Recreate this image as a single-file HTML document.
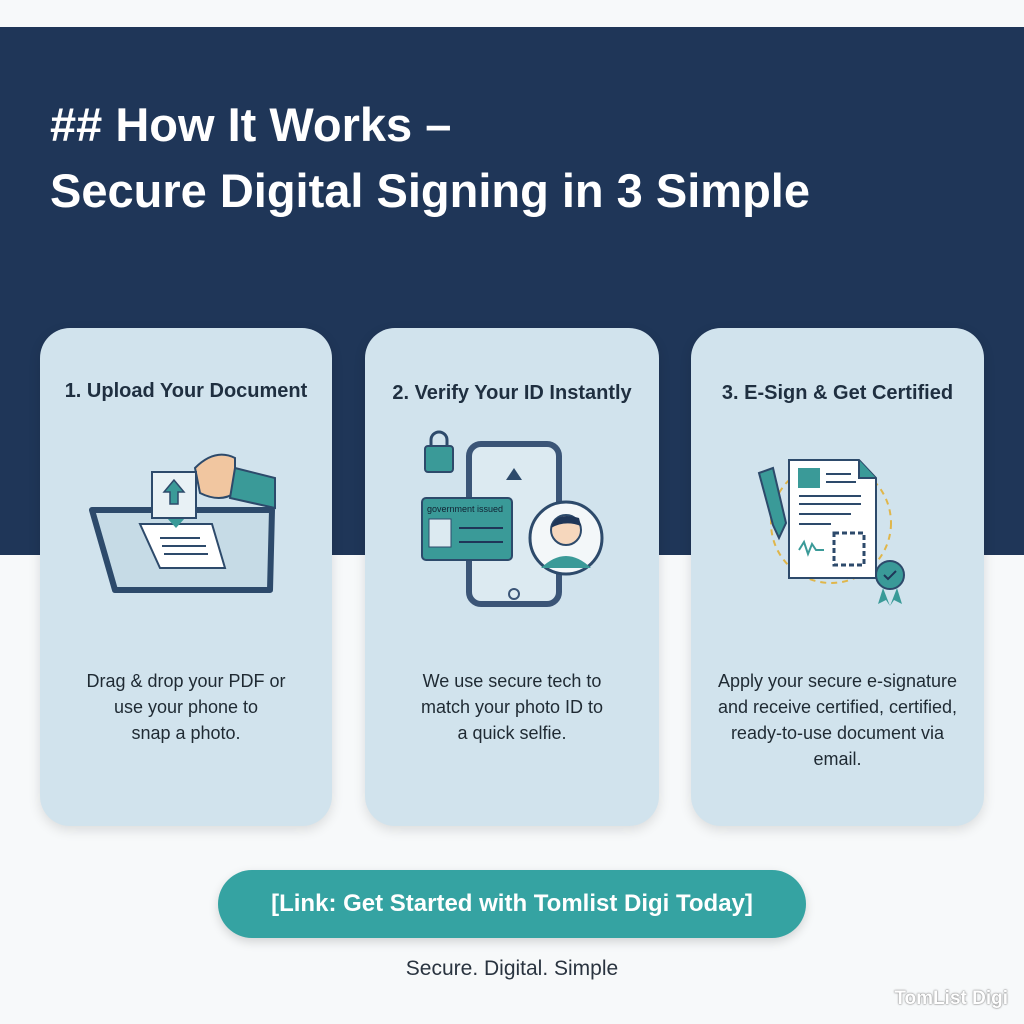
<!DOCTYPE html>
<html><head><meta charset="utf-8"><style>
*{margin:0;padding:0;box-sizing:border-box}
body{width:1024px;height:1024px;background:#f7f9fa;position:relative;overflow:hidden;font-family:"Liberation Sans",sans-serif}
.band{position:absolute;left:0;top:27px;width:1024px;height:528px;background:#1f3658}
h1{position:absolute;left:50px;top:92px;color:#fff;font-size:47px;font-weight:bold;line-height:66px;white-space:nowrap}
.card{position:absolute;top:328px;height:498px;background:#d1e3ed;border-radius:30px;box-shadow:0 4px 12px rgba(0,0,0,.12)}
.t{position:absolute;top:52px;left:0;width:100%;text-align:center;font-size:20px;font-weight:bold;color:#1f2f40}
.d{position:absolute;top:340px;left:0;width:100%;text-align:center;font-size:18px;line-height:26px;color:#1f2a33}
svg{position:absolute;left:0;top:0}
.btn{position:absolute;left:218px;top:870px;width:588px;height:68px;border-radius:34px;background:#35a3a2;color:#fff;font-weight:bold;font-size:24px;text-align:center;line-height:68px;box-shadow:0 4px 10px rgba(0,0,0,.15)}
.tag{position:absolute;top:957px;left:0;width:1024px;text-align:center;font-size:21px;color:#2a3440}
.wm{position:absolute;right:16px;top:988px;font-size:19px;color:#fff;font-weight:bold;text-shadow:0 0 2px #888,0 0 1px #666}
</style></head><body>
<div class="band"></div>
<h1>## How It Works –<br>Secure Digital Signing in 3 Simple</h1>

<div class="card" style="left:40px;width:292px">
<div class="t">1. Upload Your Document</div>
<svg width="292" height="300">
<polygon points="52,182 232,182 230,262 75,262" fill="#c6dbe6" stroke="#2d4a6b" stroke-width="6" stroke-linejoin="round"/>
<polygon points="100,196 172,196 185,240 120,240" fill="#fff" stroke="#2d4a6b" stroke-width="2"/>
<line x1="120" y1="210" x2="160" y2="210" stroke="#2d4a6b" stroke-width="2"/><line x1="122" y1="218" x2="166" y2="218" stroke="#2d4a6b" stroke-width="2"/><line x1="124" y1="226" x2="168" y2="226" stroke="#2d4a6b" stroke-width="2"/>
<polygon points="127,190 145,190 136,200" fill="#3a9a98"/>
<path d="M155,140 Q175,120 195,130 L195,165 Q180,175 160,165 Z" fill="#f1c6a0" stroke="#2d4a6b" stroke-width="2"/>
<path d="M195,140 L235,150 L235,180 L190,170 Z" fill="#3a9a98" stroke="#2d4a6b" stroke-width="2"/>
<rect x="112" y="144" width="44" height="46" fill="#e8f1f5" stroke="#2d4a6b" stroke-width="2"/>
<path d="M134,152 L124,164 H130 V176 H138 V164 H144 Z" fill="#3a9a98" stroke="#2d4a6b" stroke-width="1.5"/>
</svg>
<div class="d">Drag &amp; drop your PDF or<br>use your phone to<br>snap a photo.</div>
</div>

<div class="card" style="left:365px;width:294px">
<div class="t" style="top:54px">2. Verify Your ID Instantly</div>
<svg width="294" height="300">
<rect x="104" y="116" width="90" height="160" rx="12" fill="#dceaf1" stroke="#3b5577" stroke-width="6"/>
<circle cx="149" cy="266" r="5" fill="none" stroke="#3b5577" stroke-width="2"/>
<path d="M149,140 l-8,12 h16 z" fill="#2d4a6b"/>
<rect x="60" y="118" width="28" height="26" rx="3" fill="#3a9a98" stroke="#2d4a6b" stroke-width="2"/>
<path d="M66,118 v-6 a8,8 0 0 1 16,0 v6" fill="none" stroke="#2d4a6b" stroke-width="3"/>
<rect x="57" y="170" width="90" height="62" rx="4" fill="#3a9a98" stroke="#2d4a6b" stroke-width="2"/>
<text x="62" y="184" font-size="9" fill="#123" font-family="Liberation Sans">government issued</text>
<rect x="64" y="191" width="22" height="28" fill="#dceaf1" stroke="#2d4a6b"/>
<line x1="94" y1="200" x2="138" y2="200" stroke="#1f3658" stroke-width="2"/><line x1="94" y1="214" x2="138" y2="214" stroke="#1f3658" stroke-width="2"/>
<circle cx="201" cy="210" r="36" fill="#f3f7f9" stroke="#2d4a6b" stroke-width="3"/>
<circle cx="201" cy="202" r="15" fill="#f6d7bd" stroke="#2d4a6b" stroke-width="2"/>
<path d="M186,200 Q190,183 214,190 L216,198 Q200,192 186,200Z" fill="#1f3658"/>
<path d="M176,240 Q201,216 226,240" fill="#3a9a98"/>
</svg>
<div class="d">We use secure tech to<br>match your photo ID to<br>a quick selfie.</div>
</div>

<div class="card" style="left:691px;width:293px">
<div class="t" style="top:54px">3. E-Sign &amp; Get Certified</div>
<svg width="293" height="300">
<circle cx="140" cy="195" r="60" fill="none" stroke="#e0b64a" stroke-width="2" stroke-dasharray="6 5"/>
<path d="M98,132 L168,132 L185,150 L185,250 L98,250 Z" fill="#fff" stroke="#2d4a6b" stroke-width="2"/>
<path d="M168,132 L168,150 L185,150" fill="#3a9a98" stroke="#2d4a6b" stroke-width="2"/>
<rect x="107" y="140" width="22" height="20" fill="#3a9a98"/>
<g stroke="#2d4a6b" stroke-width="2"><line x1="135" y1="146" x2="160" y2="146"/><line x1="135" y1="154" x2="165" y2="154"/><line x1="108" y1="168" x2="170" y2="168"/><line x1="108" y1="176" x2="170" y2="176"/><line x1="108" y1="186" x2="160" y2="186"/><line x1="108" y1="196" x2="140" y2="196"/></g>
<path d="M108,222 l5,-8 l4,12 l4,-10 l4,6 h8" fill="none" stroke="#3a9a98" stroke-width="2"/>
<rect x="143" y="205" width="30" height="32" fill="none" stroke="#2d4a6b" stroke-width="3" stroke-dasharray="5 3"/>
<circle cx="199" cy="247" r="14" fill="#3a9a98" stroke="#2d4a6b" stroke-width="2"/>
<path d="M192,260 l-5,16 l8,-4 l4,6 z M206,260 l5,16 l-8,-4 l-4,6z" fill="#3a9a98"/>
<path d="M193,247 l4,4 l8,-8" fill="none" stroke="#1f3658" stroke-width="2"/>
<path d="M68,145 L82,140 L95,195 L88,210 L82,197 Z" fill="#3a9a98" stroke="#2d4a6b" stroke-width="2"/>
</svg>
<div class="d">Apply your secure e-signature<br>and receive certified, certified,<br>ready-to-use document via<br>email.</div>
</div>

<div class="btn">[Link: Get Started with Tomlist Digi Today]</div>
<div class="tag">Secure. Digital. Simple</div>
<div class="wm">TomList Digi</div>
</body></html>
